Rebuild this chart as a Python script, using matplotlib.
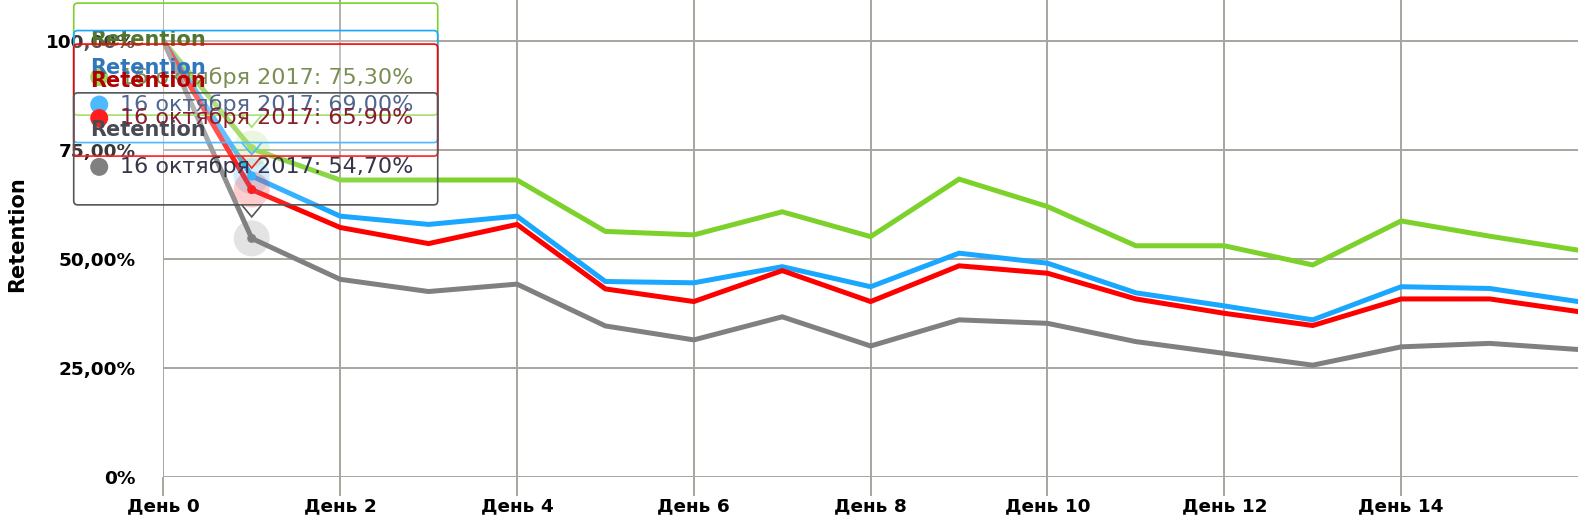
import matplotlib
matplotlib.use("Agg")
import matplotlib.pyplot as plt
import matplotlib.transforms as mtransforms
from matplotlib.patches import FancyBboxPatch, Circle, Polygon

# data (retention in %, by day)
days = list(range(17))
green = [100, 75.3, 68.1, 68.1, 68.1, 56.3, 55.5, 60.8, 55.1, 68.3, 62.0, 53.0, 53.0, 48.6, 58.7, 55.2, 52.0]
blue = [100, 69.0, 59.8, 57.9, 59.8, 44.8, 44.5, 48.2, 43.6, 51.3, 49.0, 42.2, 39.2, 36.0, 43.6, 43.2, 40.2]
red = [100, 65.9, 57.2, 53.5, 57.9, 43.1, 40.2, 47.3, 40.2, 48.4, 46.7, 40.8, 37.5, 34.7, 40.8, 40.8, 37.9]
gray = [100, 54.7, 45.3, 42.5, 44.2, 34.6, 31.4, 36.7, 30.0, 36.0, 35.2, 31.0, 28.3, 25.6, 29.8, 30.6, 29.2]

series_name = "Retention"
tooltip_date = "16 октября 2017"
hover_day = 1
xtick_days = list(range(0, 16, 2))
ytick_vals = [0, 25, 50, 75, 100]
ytick_labels = ["0%", "25,00%", "50,00%", "75,00%", "100,00%"]

# line colour, tooltip border, header colour, text colour
series = [
    (green, "#7cd12b", "#7cd12b", "#3a6414", "#556f24"),
    (blue, "#1aa7ff", "#1aa7ff", "#1464b4", "#1e3a6e"),
    (red, "#ff0000", "#ff0000", "#b00000", "#760010"),
    (gray, "#808080", "#555555", "#4a4a55", "#36364a"),
]

W, H = 1578, 521
fig = plt.figure(figsize=(W / 100, H / 100), dpi=100)
ax = fig.add_axes([163.3 / W, (H - 476.7) / H, 1 - 163.3 / W, 476.7 / H])

for vals, col, _, _, _ in series:
    ax.plot(days, vals, color=col, lw=3.6, solid_joinstyle="miter", zorder=2)

ax.set_xlim(0, 16)
ax.set_ylim(0, 476.7 / 4.357)
ax.set_xticks(xtick_days)
ax.set_xticklabels(["День %d" % d for d in xtick_days], fontsize=13.3, fontweight="bold")
ax.set_yticks(ytick_vals)
ax.set_yticklabels(ytick_labels, fontsize=13.3, fontweight="bold")
ax.tick_params(axis="x", length=13.5, width=1.4, color="#a7a59d", pad=1)
ax.tick_params(axis="y", length=0, pad=20)
ax.grid(True, color="#a7a59d", lw=1.4)
ax.set_axisbelow(True)
for s in ax.spines.values():
    s.set_visible(False)

fig.text(17 / W, 1 - 234 / H, series_name, rotation=90, ha="center", va="center",
         fontsize=15, fontweight="bold")

# tooltips / hover state, in figure pixel coords
pix = mtransforms.Affine2D().scale(1 / W, 1 / H) + fig.transFigure
fig.canvas.draw()
for i, (vals, col, bcol, hcol, tcol) in enumerate(series):
    px, py = ax.transData.transform((hover_day, vals[hover_day]))
    ax.add_patch(Circle((px, py), 18, transform=pix, fc=col, ec="none", alpha=0.22, zorder=3))
    ax.add_patch(Circle((px, py), 4.5, transform=pix, fc=col, ec="none", zorder=4))

    x0 = px - 178
    bottom = py + 33.5
    top = py + 145.5
    z = 6 + i * 2
    ax.add_patch(FancyBboxPatch((x0, bottom), 364, top - bottom,
                                boxstyle="round,pad=0,rounding_size=4", transform=pix,
                                fc=(1, 1, 1, 0.12), ec=bcol, lw=1.2, zorder=z, clip_on=False))
    ax.add_patch(Polygon([(px - 10, bottom), (px, bottom - 12), (px + 10, bottom)], closed=False,
                         transform=pix, fc=(1, 1, 1, 0.12), ec=bcol, lw=1.2, zorder=z,
                         clip_on=False))
    ax.text(x0 + 16.5, top - 37, series_name, transform=pix, ha="left", va="center",
            fontsize=15, fontweight="bold", color=hcol, zorder=z + 1, clip_on=False)
    ax.add_patch(Circle((x0 + 25.5, top - 74), 9, transform=pix, fc=col, ec="none",
                        zorder=z + 1, clip_on=False))
    label = "%s: %s%%" % (tooltip_date, ("%.2f" % vals[hover_day]).replace(".", ","))
    ax.text(x0 + 46.5, top - 74, label, transform=pix, ha="left", va="center",
            fontsize=16, color=tcol, zorder=z + 1, clip_on=False)

fig.savefig("out.png", dpi=100)
